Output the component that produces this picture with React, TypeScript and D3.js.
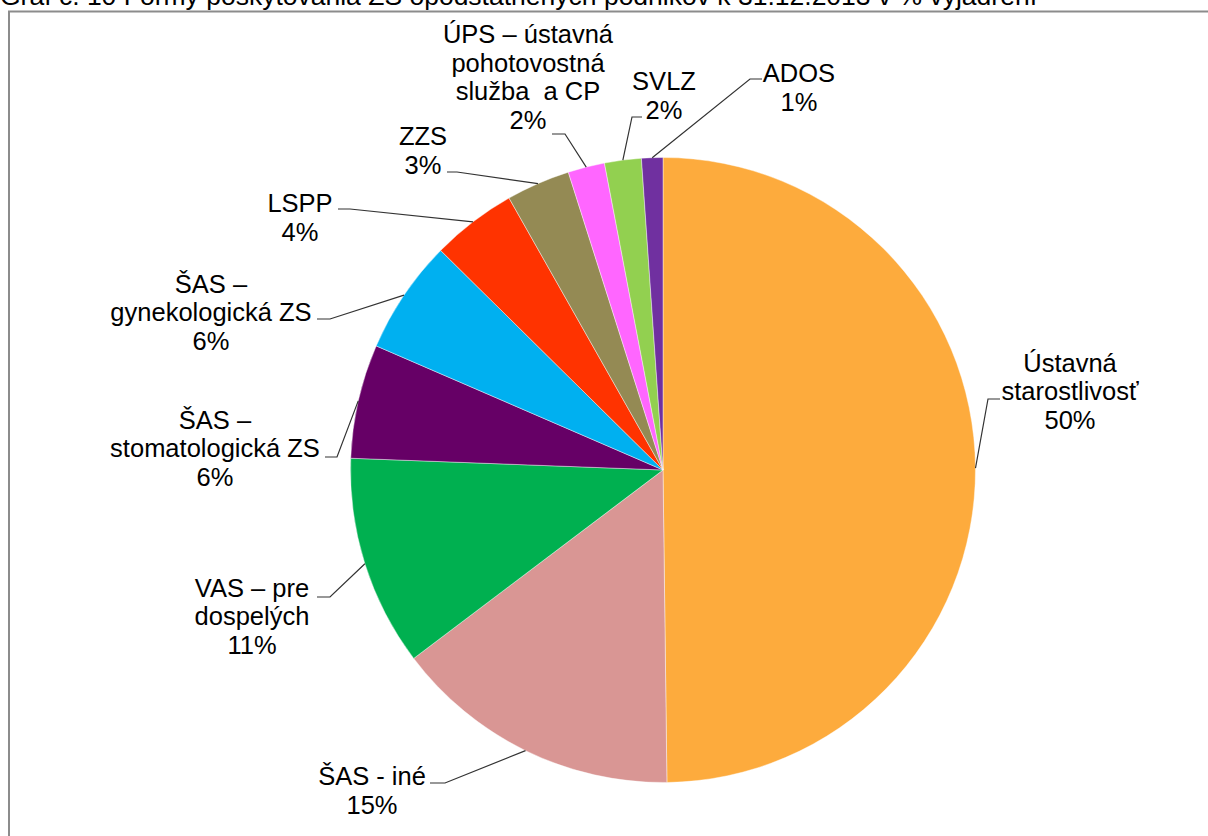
import React from "react";
import * as d3 from "d3";

// chart data
const categories: string[][] = [
  ["Ústavná", "starostlivosť"],
  ["ŠAS - iné"],
  ["VAS – pre", "dospelých"],
  ["ŠAS –", "stomatologická ZS"],
  ["ŠAS –", "gynekologická ZS"],
  ["LSPP"],
  ["ZZS"],
  ["ÚPS – ústavná", "pohotovostná", "služba  a CP"],
  ["SVLZ"],
  ["ADOS"],
];
const values = [49.8, 14.9, 10.9, 5.9, 5.9, 4.4, 3.3, 1.9, 1.9, 1.1];
const colors = [
  "#FDAB3D",
  "#D99694",
  "#00B050",
  "#660066",
  "#00B0F0",
  "#FF3300",
  "#948A54",
  "#FF66FF",
  "#92D050",
  "#7030A0",
];
const title =
  "Graf č. 10 Formy poskytovania ZS opodstatnených podnikov k 31.12.2013 v % vyjadrení";

// label placement (center x, baseline of last line, leader end at label, elbow x)
const labelLayout = [
  { x: 1070, y: 428.5, lx: 1000, ly: 399, ex: 988 },
  { x: 372, y: 813.5, lx: 430, ly: 783, ex: 445 },
  { x: 252, y: 653.5, lx: 317, ly: 597, ex: 330 },
  { x: 215, y: 485.5, lx: 325, ly: 457, ex: 337 },
  { x: 211, y: 349.5, lx: 317, ly: 319, ex: 330 },
  { x: 300, y: 240.5, lx: 338, ly: 209, ex: 350 },
  { x: 423, y: 173.5, lx: 447, ly: 172, ex: 457 },
  { x: 528, y: 128.5, lx: 552, ly: 134, ex: 565 },
  { x: 664, y: 118.5, lx: 642, ly: 117, ex: 632 },
  { x: 799, y: 110.5, lx: 762, ly: 79, ex: 750 },
];

const W = 1208;
const H = 836;
const cx = 663;
const cy = 470;
const r = 312.5;
const lineH = 28.5;
const font = "'Liberation Sans', Arial, sans-serif";

export default function App() {
  const total = d3.sum(values);
  const fmt = d3.format(".0%");
  const pie = d3
    .pie<number>()
    .sort(null)
    .startAngle(0)
    .endAngle(2 * Math.PI)
    .value((d) => d);
  const arcs = pie(values);
  const arc = d3.arc<d3.PieArcDatum<number>>().innerRadius(0).outerRadius(r);
  const edge = d3.arc<d3.PieArcDatum<number>>().innerRadius(r).outerRadius(r);

  return (
    <svg
      width={W}
      height={H}
      style={{ position: "absolute", left: 0, top: 0, display: "block", background: "#fff" }}
      fontFamily={font}
    >
      <text x={0} y={4.5} fontSize={26.5} fill="#000">
        {title}
      </text>
      <rect x={9} y={11.5} width={W + 20} height={H + 20} fill="none" stroke="#8c8c8c" strokeWidth={2} />

      <g transform={`translate(${cx},${cy})`}>
        {arcs.map((a, i) => (
          <path key={i} d={arc(a) || ""} fill={colors[i]} stroke="#fff" strokeWidth={0.6} strokeOpacity={0.7} />
        ))}
      </g>

      {arcs.map((a, i) => {
        const [px, py] = edge.centroid(a);
        const L = labelLayout[i];
        const pts = [
          [cx + px, cy + py],
          [L.ex, L.ly],
          [L.lx, L.ly],
        ];
        return (
          <polyline
            key={"l" + i}
            points={pts.map((p) => p.join(",")).join(" ")}
            fill="none"
            stroke="#333"
            strokeWidth={1.2}
          />
        );
      })}

      {arcs.map((a, i) => {
        const L = labelLayout[i];
        const lines = [...categories[i], fmt(values[i] / total)];
        const y0 = L.y - (lines.length - 1) * lineH;
        return (
          <text key={"t" + i} x={L.x} y={y0} fontSize={25.5} textAnchor="middle" fill="#000" xmlSpace="preserve">
            {lines.map((s, j) => (
              <tspan key={j} x={L.x} y={y0 + j * lineH}>
                {s}
              </tspan>
            ))}
          </text>
        );
      })}
    </svg>
  );
}
